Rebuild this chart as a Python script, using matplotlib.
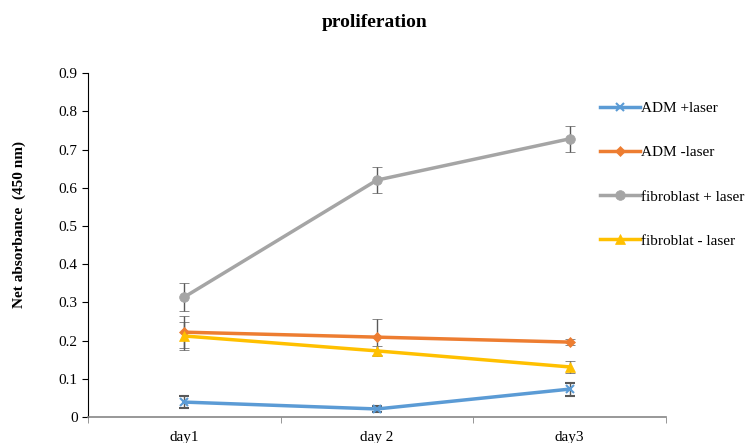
import matplotlib.pyplot as plt
from matplotlib.lines import Line2D
import numpy as np

plt.rcParams['font.family'] = ['Liberation Serif', 'DejaVu Serif']

# absorbance readings, mean and error per day
days = ['day1', 'day 2', 'day3']
adm_plus = [0.039, 0.021, 0.073]
adm_plus_err = [0.016, 0.008, 0.017]
adm_minus = [0.222, 0.209, 0.196]
adm_minus_err = [0.042, 0.048, 0.008]
fib_plus = [0.314, 0.620, 0.728]
fib_plus_err = [0.037, 0.034, 0.034]
fib_minus = [0.212, 0.173, 0.131]
fib_minus_err = [0.037, 0.013, 0.016]

series = [
    ('ADM +laser', adm_plus, adm_plus_err, '#5B9BD5', 'x', 6),
    ('ADM -laser', adm_minus, adm_minus_err, '#ED7D31', 'D', 5),
    ('fibroblast + laser', fib_plus, fib_plus_err, '#A5A5A5', 'o', 7),
    ('fibroblat - laser', fib_minus, fib_minus_err, '#FFC000', '^', 7),
]

fig = plt.figure(figsize=(7.49, 4.43), dpi=100)
ax = fig.add_axes([0.1175, 0.0587, 0.7717, 0.7763])

x = np.arange(len(days))
handles = []
for label, vals, err, col, mk, ms in series:
    mew = 1.5 if mk == 'x' else 0.5
    ax.errorbar(x, vals, yerr=err, color=col, marker=mk, markersize=ms,
                linewidth=2.5, ecolor='#595959', elinewidth=1, capsize=3.5,
                capthick=1, markeredgewidth=mew)
    handles.append(Line2D([], [], color=col, marker=mk, markersize=ms,
                          linewidth=2.5, markeredgewidth=mew, label=label))

ax.set_xlim(-0.5, 2.5)
ax.set_ylim(0, 0.9)
ax.set_yticks(np.arange(0, 0.91, 0.1))
ax.set_yticklabels(['0'] + ['%.1f' % v for v in np.arange(0.1, 0.91, 0.1)])
ax.set_xticks(x)
ax.set_xticklabels(days)
ax.set_xticks([-0.5, 0.5, 1.5, 2.5], minor=True)
ax.tick_params(axis='x', which='major', length=0, labelsize=11, pad=10)
ax.tick_params(axis='x', which='minor', length=4, color='#868686')
ax.tick_params(axis='y', labelsize=11, length=4, width=0.8)

for s in ['top', 'right']:
    ax.spines[s].set_visible(False)
ax.spines['bottom'].set_color('#868686')
ax.spines['bottom'].set_linewidth(1.2)
ax.spines['left'].set_color('black')
ax.spines['left'].set_linewidth(0.8)

ax.set_ylabel('Net absorbance  (450 nm)', fontsize=11, fontweight='bold')
ax.yaxis.set_label_coords(-0.108, 0.56)
fig.suptitle('proliferation', fontsize=14, fontweight='bold', y=0.968)

fig.legend(handles=handles, loc='upper left', bbox_to_anchor=(0.793, 0.785),
           frameon=False, fontsize=11, labelspacing=2.0, handlelength=2.6,
           handletextpad=0.1, borderaxespad=0)

fig.savefig('out.png', dpi=100)
